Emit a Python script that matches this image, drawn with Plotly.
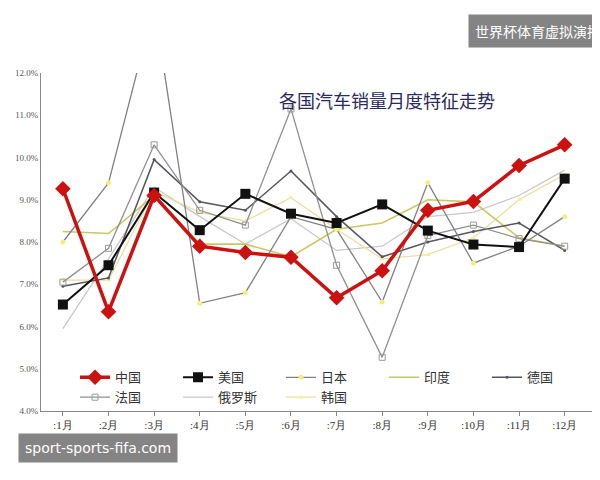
import plotly.graph_objects as go

months = [":%d月" % i for i in range(1, 13)]
x = list(range(1, 13))
china   = [9.26, 6.35, 9.1, 7.9, 7.75, 7.64, 6.68, 7.32, 8.75, 8.96, 9.81, 10.3]
usa     = [6.52, 7.45, 9.17, 8.28, 9.14, 8.67, 8.45, 8.89, 8.27, 7.94, 7.88, 9.5]
japan   = [8.0, 9.4, 13.6, 6.55, 6.8, 8.6, 8.3, 6.58, 9.4, 7.5, 7.9, 8.6]
india   = [8.25, 8.2, 9.1, 7.95, 7.95, 7.65, 8.3, 8.45, 9.0, 8.95, 8.1, 7.9]
germany = [6.95, 7.15, 9.95, 8.95, 8.75, 9.68, 8.6, 7.65, 8.0, 8.25, 8.45, 7.8]
france  = [7.05, 7.85, 10.3, 8.75, 8.4, 11.15, 7.45, 5.27, 8.15, 8.4, 8.08, 7.9]
russia  = [5.95, 7.6, 9.3, 8.6, 7.95, 8.55, 7.8, 7.9, 8.6, 8.7, 9.1, 9.7]
korea   = [7.1, 7.1, 9.2, 8.7, 8.5, 9.05, 8.3, 7.6, 7.7, 8.1, 9.0, 9.6]

fig = go.Figure()
def add(name, y, color, width, rank, marker=None):
    fig.add_trace(go.Scatter(x=x, y=y, name=name, mode="lines+markers" if marker else "lines",
                             line=dict(color=color, width=width), marker=marker or {},
                             legendrank=rank))

add("俄罗斯", russia, "#c8c8c8", 1.3, 7)
add("韩国", korea, "#e8e0a0", 1.3, 8, dict(symbol="triangle-up", size=5, color="#f0f0a0"))
add("印度", india, "#c8c860", 1.6, 4)
add("德国", germany, "#555560", 1.5, 5, dict(symbol="circle", size=3, color="#555560"))
add("法国", france, "#909090", 1.3, 6, dict(symbol="square-open", size=6, color="#999999"))
add("日本", japan, "#808080", 1.3, 3, dict(symbol="circle", size=5, color="#f0f080"))
add("美国", usa, "#111111", 2, 2, dict(symbol="square", size=10, color="#111111"))
add("中国", china, "#cc1111", 3.5, 1, dict(symbol="diamond", size=12, color="#cc1111"))

fig.update_layout(
    width=600, height=480, plot_bgcolor="white", paper_bgcolor="white",
    margin=dict(l=33, r=0, t=65, b=77),
    font=dict(family="Liberation Serif", size=10, color="#333"),
    showlegend=True,
    legend=dict(orientation="h", x=0.06, y=0.07, xanchor="left", yanchor="middle",
                entrywidth=58, entrywidthmode="pixels", itemwidth=30,
                bgcolor="rgba(0,0,0,0)", font=dict(size=13, family="Noto Sans CJK SC")),
    xaxis=dict(range=[0.52, 12.95], tickvals=x, ticktext=months, showgrid=False, showline=True,
               linecolor="#888", ticks="outside", ticklen=4, tickcolor="#888", zeroline=False,
               tickfont=dict(size=11, color="#333")),
    yaxis=dict(range=[4, 12], dtick=1, tickformat=".1f", ticksuffix="%", showgrid=False, showline=True,
               linecolor="#888", ticks="", zeroline=False, tickfont=dict(size=9, color="#555")),
)
fig.add_annotation(text="各国汽车销量月度特征走势", xref="paper", yref="paper", x=0.61, y=0.965,
                   showarrow=False, font=dict(size=18, color="#2a2a60", family="Noto Sans CJK SC"))
fig.add_annotation(text="世界杯体育虚拟演播", xref="paper", yref="paper", x=1.0, y=1.175, xanchor="right",
                   showarrow=False, bgcolor="rgba(110,110,110,0.85)", borderpad=6,
                   font=dict(size=14, color="white", family="Noto Sans CJK SC"))
fig.add_annotation(text="sport-sports-fifa.com", xref="paper", yref="paper", x=-0.04, y=-0.155, xanchor="left",
                   showarrow=False, bgcolor="rgba(110,110,110,0.85)", borderpad=6,
                   font=dict(size=14, color="white", family="DejaVu Sans"))
fig.write_html("out.html")
